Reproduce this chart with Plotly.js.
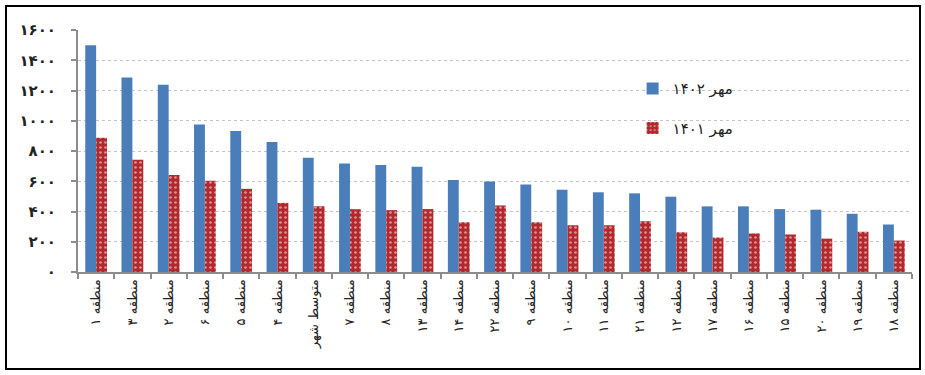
<!DOCTYPE html>
<html>
<head>
<meta charset="utf-8">
<script src="https://cdn.plot.ly/plotly-3.0.1.min.js"></script>
<style>
  html, body { margin: 0; padding: 0; background: #fff; }
  #wrap { position: relative; width: 925px; height: 375px; }
  #chart { width: 925px; height: 375px; }
  #frame { position: absolute; left: 5px; top: 5px; width: 912px; height: 361px;
           border: 2px solid #000; pointer-events: none; }
</style>
</head>
<body>
<div id="wrap">
  <div id="chart"></div>
  <div id="frame"></div>
</div>
<script>
const categories = [
  'منطقه ۱', 'منطقه ۳', 'منطقه ۲', 'منطقه ۶', 'منطقه ۵', 'منطقه ۴', 'متوسط شهر',
  'منطقه ۷', 'منطقه ۸', 'منطقه ۱۳', 'منطقه ۱۴', 'منطقه ۲۲', 'منطقه ۹', 'منطقه ۱۰',
  'منطقه ۱۱', 'منطقه ۲۱', 'منطقه ۱۲', 'منطقه ۱۷', 'منطقه ۱۶', 'منطقه ۱۵', 'منطقه ۲۰',
  'منطقه ۱۹', 'منطقه ۱۸'
];
const seriesNames = ['مهر ۱۴۰۲', 'مهر ۱۴۰۱'];
const values1402 = [1500, 1286, 1238, 975, 933, 860, 756, 718, 707, 696, 609, 598, 578, 544, 527, 520, 498, 434, 434, 416, 412, 385, 314];
const values1401 = [888, 742, 641, 603, 550, 457, 435, 415, 409, 416, 329, 440, 329, 309, 309, 336, 263, 228, 255, 248, 221, 266, 208];
const yTickVals = [0, 200, 400, 600, 800, 1000, 1200, 1400, 1600];
const yTickText = ['۰', '۲۰۰', '۴۰۰', '۶۰۰', '۸۰۰', '۱۰۰۰', '۱۲۰۰', '۱۴۰۰', '۱۶۰۰'];

const traces = [
  {
    type: 'bar', name: seriesNames[0], x: categories, y: values1402,
    marker: { color: '#4a7ebb', line: { width: 0 } },
    legendgroup: 'a'
  },
  {
    type: 'bar', name: seriesNames[1], x: categories, y: values1401,
    marker: {
      color: '#b3282d', line: { width: 0 },
      pattern: { shape: '.', fgcolor: '#ffffff', fillmode: 'overlay', size: 5, solidity: 0.22 }
    },
    legendgroup: 'b'
  }
];

const layout = {
  width: 925, height: 375,
  margin: { l: 78, r: 13, t: 30, b: 103 },
  paper_bgcolor: '#ffffff', plot_bgcolor: '#ffffff',
  barmode: 'group', bargap: 0.4, bargroupgap: 0,
  font: { family: 'DejaVu Sans, sans-serif', color: '#222' },
  showlegend: true,
  legend: {
    x: 0.665, y: 0.825, xanchor: 'left', yanchor: 'top',
    bgcolor: 'rgba(0,0,0,0)', tracegroupgap: 17,
    font: { size: 15, color: '#222', family: 'DejaVu Sans, sans-serif' }
  },
  xaxis: {
    type: 'category', tickangle: -90,
    showline: true, linecolor: '#8c8c8c', linewidth: 2,
    ticks: 'outside', tickson: 'boundaries', ticklen: 5, tickcolor: '#8c8c8c', tickwidth: 2,
    tickfont: { size: 13, color: '#222' },
    showgrid: false, automargin: false
  },
  yaxis: {
    range: [0, 1600], tickvals: yTickVals, ticktext: yTickText,
    showline: true, linecolor: '#8c8c8c', linewidth: 2,
    ticks: 'outside', ticklen: 5, tickcolor: '#8c8c8c', tickwidth: 2,
    ticklabelstandoff: 12,
    tickfont: { size: 15, color: '#222', weight: 'bold' },
    showgrid: true, gridcolor: '#c4c4c4', griddash: 'dot', gridwidth: 1,
    zeroline: false, automargin: false
  }
};

Plotly.newPlot('chart', traces, layout, { displayModeBar: false, staticPlot: true });
</script>
</body>
</html>
